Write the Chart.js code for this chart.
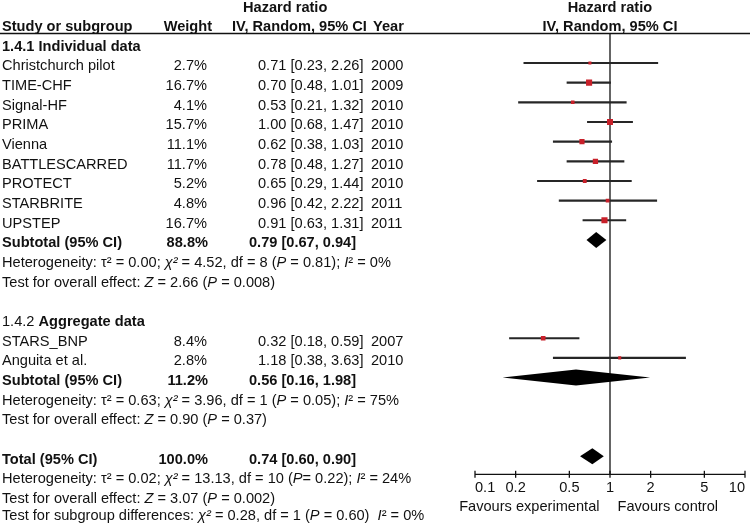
<!DOCTYPE html>
<html><head><meta charset="utf-8">
<script src="https://cdn.jsdelivr.net/npm/chart.js@4.4.1/dist/chart.umd.min.js"></script>
<style>html,body{margin:0;padding:0;background:#fff;} canvas{display:block;}</style>
</head><body>
<div style="width:750px;height:524px"><canvas id="c" width="750" height="524"></canvas></div>
<script>
// ---------- DATA ----------
const groupNames = ['1.4.1', '1.4.2'];
const groupTitles = ['Individual data', 'Aggregate data'];
const studies = ['Christchurch pilot','TIME-CHF','Signal-HF','PRIMA','Vienna','BATTLESCARRED','PROTECT','STARBRITE','UPSTEP','STARS_BNP','Anguita et al.'];
const studyGroup = [0,0,0,0,0,0,0,0,0,1,1];
const weights = [2.7,16.7,4.1,15.7,11.1,11.7,5.2,4.8,16.7,8.4,2.8];
const hr = [0.71,0.70,0.53,1.00,0.62,0.78,0.65,0.96,0.91,0.32,1.18];
const lower = [0.23,0.48,0.21,0.68,0.38,0.48,0.29,0.42,0.63,0.18,0.38];
const upper = [2.26,1.01,1.32,1.47,1.03,1.27,1.44,2.22,1.31,0.59,3.63];
const years = [2000,2009,2010,2010,2010,2010,2010,2011,2011,2007,2010];
const pooledLabels = ['Subtotal (95% CI)','Subtotal (95% CI)','Total (95% CI)'];
const pooledWeights = [88.8,11.2,100.0];
const pooledHr = [0.79,0.56,0.74];
const pooledLower = [0.67,0.16,0.60];
const pooledUpper = [0.94,1.98,0.90];
const hetTau2 = ['0.00','0.63','0.02'];
const hetChi2 = ['4.52','3.96','13.13'];
const hetDf = ['8','1','10'];
const hetP = ['0.81','0.05','0.22'];
const hetI2 = ['0%','75%','24%'];
const overallZ = ['2.66','0.90','3.07'];
const overallP = ['0.008','0.37','0.002'];
const subgroupChi2 = '0.28', subgroupDf = '1', subgroupP = '0.60', subgroupI2 = '0%';
const xTicks = [0.1,0.2,0.5,1,2,5,10];
const favourLabels = ['Favours experimental','Favours control'];

// ---------- ROW LAYOUT ----------
const rows = [];
const studyRow = [];
let r = 1;
groupNames.forEach((g, gi) => {
  rows.push({row:r++, type:'group', gi});
  studies.forEach((s,i) => { if (studyGroup[i] === gi) { studyRow[i] = r; rows.push({row:r++, type:'study', i}); } });
  rows.push({row:r++, type:'pooled', pi:gi});
  rows.push({row:r++, type:'het', pi:gi});
  rows.push({row:r++, type:'overall', pi:gi});
  r++;
});
rows.push({row:r++, type:'pooled', pi:2});
rows.push({row:r++, type:'het', pi:2});
rows.push({row:r++, type:'overall', pi:2});
rows.push({row:r++, type:'subgroup'});

const ciData = studies.map((s,i) => ({x:[lower[i], upper[i]], y:studyRow[i]}));
const ptData = studies.map((s,i) => ({x:hr[i], y:studyRow[i]}));
const ptRadius = weights.map(w => (1 + 1.25 * Math.sqrt(w)) / Math.SQRT2);

// ---------- DRAWING HELPERS ----------
const FAM = '"Liberation Sans", Arial, Helvetica, sans-serif';
const FS = 14.6;
const FN = FS + 'px ' + FAM, FB = 'bold ' + FS + 'px ' + FAM, FI = 'italic ' + FS + 'px ' + FAM;
const TXT = '#111';
function runs(ctx, parts, x, y, align) {
  let total = 0;
  parts.forEach(p => { ctx.font = p[1]; total += ctx.measureText(p[0]).width; });
  let cx = align === 'right' ? x - total : (align === 'center' ? x - total/2 : x);
  ctx.textAlign = 'left';
  parts.forEach(p => { ctx.font = p[1]; ctx.fillText(p[0], cx, y); cx += ctx.measureText(p[0]).width; });
}
function fmt(v){ return v.toFixed(2); }
function ciText(a,lo,hi){ return fmt(a) + ' [' + fmt(lo) + ', ' + fmt(hi) + ']'; }

const forestPlugin = {
  id: 'forest',
  beforeDatasetsDraw(chart) {
    const {ctx, chartArea} = chart;
    const xs = chart.scales.x;
    ctx.save();
    ctx.strokeStyle = '#111';
    ctx.lineWidth = 1.3;
    ctx.beginPath(); ctx.moveTo(0, chartArea.top); ctx.lineTo(chart.width, chartArea.top); ctx.stroke();
    const x1 = xs.getPixelForValue(1);
    ctx.beginPath(); ctx.moveTo(x1, chartArea.top); ctx.lineTo(x1, chartArea.bottom); ctx.stroke();
    const yb = chartArea.bottom;
    ctx.beginPath(); ctx.moveTo(xs.getPixelForValue(xTicks[0]), yb); ctx.lineTo(xs.getPixelForValue(xTicks[xTicks.length-1]), yb); ctx.stroke();
    xTicks.forEach(v => { const px = xs.getPixelForValue(v); ctx.beginPath(); ctx.moveTo(px, yb-3.5); ctx.lineTo(px, yb+3.5); ctx.stroke(); });
    ctx.restore();
  },
  afterDatasetsDraw(chart) {
    const {ctx, chartArea} = chart;
    const xs = chart.scales.x, ys = chart.scales.y;
    ctx.save();
    ctx.fillStyle = '#000';
    rows.filter(o => o.type === 'pooled').forEach(o => {
      const yc = ys.getPixelForValue(o.row);
      const a = xs.getPixelForValue(pooledLower[o.pi]), m = xs.getPixelForValue(pooledHr[o.pi]), b = xs.getPixelForValue(pooledUpper[o.pi]);
      ctx.beginPath(); ctx.moveTo(a, yc); ctx.lineTo(m, yc-8); ctx.lineTo(b, yc); ctx.lineTo(m, yc+8); ctx.closePath(); ctx.fill();
    });
    ctx.fillStyle = TXT;
    ctx.textBaseline = 'alphabetic';
    const base = row => ys.getPixelForValue(row) + 7.4;
    const cx = (chartArea.left + chartArea.right) / 2;
    runs(ctx, [['Hazard ratio', FB]], 243, base(-1) + 1, 'left');
    runs(ctx, [['Hazard ratio', FB]], cx, base(-1) + 1, 'center');
    runs(ctx, [['Study or subgroup', FB]], 2, base(0), 'left');
    runs(ctx, [['Weight', FB]], 212, base(0), 'right');
    runs(ctx, [['IV, Random, 95% CI', FB]], 232, base(0), 'left');
    runs(ctx, [['Year', FB]], 373, base(0), 'left');
    runs(ctx, [['IV, Random, 95% CI', FB]], cx, base(0), 'center');
    rows.forEach(o => {
      const y = base(o.row);
      if (o.type === 'group') {
        runs(ctx, [[groupNames[o.gi] + ' ', o.gi === 0 ? FB : FN], [groupTitles[o.gi], FB]], 2, y, 'left');
      } else if (o.type === 'study') {
        const i = o.i;
        runs(ctx, [[studies[i], FN]], 2, y, 'left');
        runs(ctx, [[weights[i].toFixed(1) + '%', FN]], 207, y, 'right');
        runs(ctx, [[ciText(hr[i], lower[i], upper[i]), FN]], 258, y, 'left');
        runs(ctx, [[String(years[i]), FN]], 371, y, 'left');
      } else if (o.type === 'pooled') {
        const p = o.pi;
        runs(ctx, [[pooledLabels[p], FB]], 2, y, 'left');
        runs(ctx, [[pooledWeights[p].toFixed(1) + '%', FB]], 208, y, 'right');
        runs(ctx, [[ciText(pooledHr[p], pooledLower[p], pooledUpper[p]), FB]], 249, y, 'left');
      } else if (o.type === 'het') {
        const p = o.pi;
        runs(ctx, [['Heterogeneity: \u03C4\u00B2 = ' + hetTau2[p] + '; ', FN], ['\u03C7\u00B2', FI],
          [' = ' + hetChi2[p] + ', df = ' + hetDf[p] + ' (', FN], ['P', FI],
          [(p === 2 ? '= ' : ' = ') + hetP[p] + '); ', FN], ['I', FI], ['\u00B2 = ' + hetI2[p], FN]], 2, y, 'left');
      } else if (o.type === 'overall') {
        const p = o.pi;
        runs(ctx, [['Test for overall effect: ', FN], ['Z', FI], [' = ' + overallZ[p] + ' (', FN], ['P', FI], [' = ' + overallP[p] + ')', FN]], 2, y, 'left');
      } else if (o.type === 'subgroup') {
        runs(ctx, [['Test for subgroup differences: ', FN], ['\u03C7\u00B2', FI], [' = ' + subgroupChi2 + ', df = ' + subgroupDf + ' (', FN],
          ['P', FI], [' = ' + subgroupP + ')  ', FN], ['I', FI], ['\u00B2 = ' + subgroupI2, FN]], 2, y - 2.5, 'left');
      }
    });
    const x1 = xs.getPixelForValue(1);
    const fy = chartArea.bottom + 37;
    runs(ctx, [[favourLabels[0], FN]], x1 - 10.5, fy, 'right');
    runs(ctx, [[favourLabels[1], FN]], x1 + 7.5, fy, 'left');
    ctx.restore();
  }
};

new Chart(document.getElementById('c'), {
  type: 'scatter',
  data: {
    datasets: [
      { type:'bar', indexAxis:'y', data: ciData, backgroundColor:'#262626', borderWidth:0, barThickness:1.5, order:2 },
      { type:'scatter', data: ptData, pointStyle:'rect', pointRadius: ptRadius, pointHoverRadius: ptRadius,
        backgroundColor:'#c8202a', borderWidth:0, order:1 }
    ]
  },
  options: {
    responsive:false, animation:false, devicePixelRatio:1,
    events: [],
    layout:{padding:{left:475, right:4, top:33.5, bottom:0}},
    plugins:{legend:{display:false}, tooltip:{enabled:false}},
    scales:{
      x:{type:'logarithmic', min:0.1, max:10, position:'bottom', offset:false, beginAtZero:false,
         afterBuildTicks: s => { s.ticks = xTicks.map(v => ({value:v})); },
         afterFit: s => { s.height = 49.7; },
         grid:{display:false, drawTicks:false, offset:false}, border:{display:false},
         ticks:{align:'inner', autoSkip:false, maxRotation:0, minRotation:0, padding:5, color:TXT,
                font:{family:FAM, size:FS}, callback: v => String(v)}},
      y:{type:'linear', min:0.5, max:22.92, reverse:true, display:false, offset:false, grid:{offset:false}}
    }
  },
  plugins:[forestPlugin]
});
</script>
</body></html>
